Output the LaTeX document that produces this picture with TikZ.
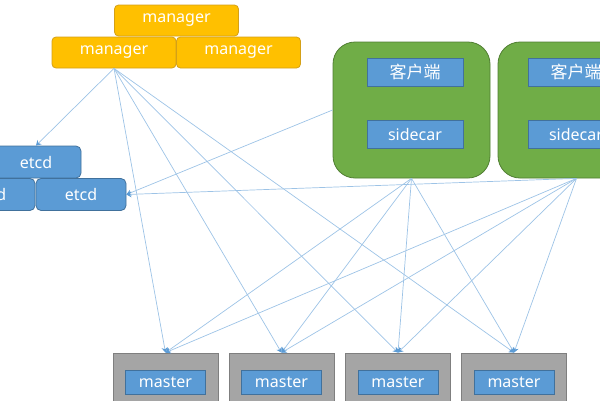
\documentclass[tikz,border=0pt]{standalone}
\usepackage{fontspec}
\setmainfont{Noto Sans}
\newfontfamily\cjk{Noto Sans CJK SC}
\usetikzlibrary{arrows.meta}
\definecolor{mgrfill}{HTML}{FFC000}
\definecolor{mgrdraw}{HTML}{D4A017}
\definecolor{bluefill}{HTML}{5B9BD5}
\definecolor{bluedraw}{HTML}{41719C}
\definecolor{greenfill}{HTML}{70AD47}
\definecolor{greendraw}{HTML}{507E32}
\definecolor{grayfill}{HTML}{A5A5A5}
\definecolor{graydraw}{HTML}{7F7F7F}
\definecolor{linkcol}{HTML}{9DC3E6}
\definecolor{tipcol}{HTML}{5B9BD5}
\tikzset{
  txt/.style={text=white, font=\fontsize{16}{18}\selectfont, inner sep=0pt},
  mgr/.style={txt, draw=mgrdraw, fill=mgrfill, line width=0.8pt, rounded corners=4pt, minimum width=124pt, minimum height=31pt},
  etcdbox/.style={txt, draw=bluedraw, fill=bluefill, line width=0.8pt, rounded corners=5pt, minimum width=90pt, minimum height=32pt},
  pod/.style={draw=greendraw, fill=greenfill, line width=0.8pt, rounded corners=22pt, minimum width=157pt, minimum height=136pt},
  inner/.style={txt, draw=bluedraw, fill=bluefill, line width=0.8pt, minimum width=96pt, minimum height=28pt},
  host/.style={draw=graydraw, fill=grayfill, line width=0.8pt, minimum width=105pt, minimum height=58pt},
  mbox/.style={txt, draw=bluedraw, fill=bluefill, line width=0.8pt, minimum width=80pt, minimum height=24pt},
  link/.style={draw=linkcol, line width=0.7pt, -{Stealth[length=5pt,width=6pt,color=tipcol]}}
}
\begin{document}
\begin{tikzpicture}[x=1pt,y=-1pt]
\useasboundingbox (0,0) rectangle (600,400);
\clip (0,0) rectangle (600,400);
% managers
\node[mgr] (m1) at (176.5,20.5) {manager};
\node[mgr] (m2) at (114,52.5) {manager};
\node[mgr] (m3) at (238.5,52.5) {manager};
% etcd
\node[etcdbox] (e1) at (36,162) {etcd};
\node[etcdbox] (e2) at (-10,194.5) {etcd};
\node[etcdbox] (e3) at (81,194.5) {etcd};
% pods
\node[pod] (p1) at (411.5,110) {};
\node[inner] (c1) at (415,72.5) {\cjk\fontsize{17}{19}\selectfont 客户端};
\node[inner] (s1) at (415,134) {sidecar};
\node[pod] (p2) at (576.5,110) {};
\node[inner] (c2) at (576,72.5) {\cjk\fontsize{17}{19}\selectfont 客户端};
\node[inner] (s2) at (576,134) {sidecar};
% masters
\foreach \i/\x in {1/165.5,2/281.5,3/398,4/514}{
  \node[host] (h\i) at (\x,382) {};
  \node[mbox] (mb\i) at (\x,382) {master};
}
% links
\draw[link] (m2.south) -- (e1.north);
\foreach \i in {1,2,3,4}{
  \draw[link] (m2.south) -- (h\i.north);
  \draw[link] (p1.south) -- (h\i.north);
  \draw[link] (p2.south) -- (h\i.north);
}
\draw[link] (p1.west) -- (e3.east);
\draw[link] (p2.south) -- (e3.east);
\end{tikzpicture}
\end{document}
